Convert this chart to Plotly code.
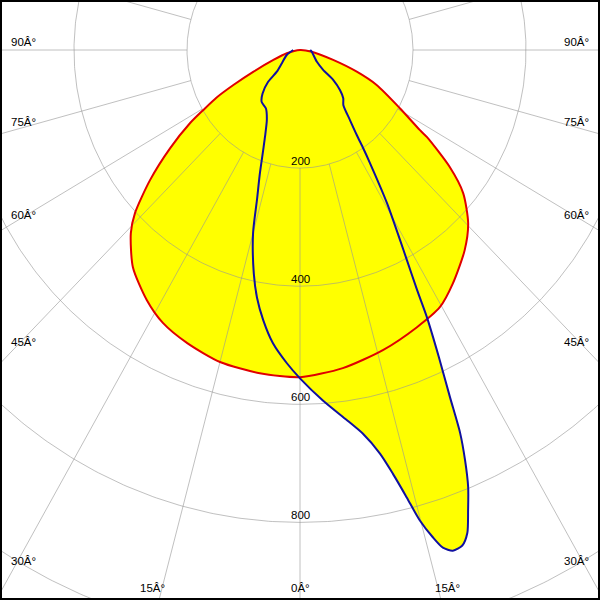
import numpy as np
import plotly.graph_objects as go

# Light distribution data: signed gamma angle (deg, negative = left half), intensity
red_angles = [-90, -76.6, -70.3, -66.0, -63.3, -61.4, -59.3, -57.5, -54.1, -50.3, -46.6,
              -44.0, -38.8, -32.6, -27.7, -21.9, -15.0, -7.4, 0, 8.0, 16.1, 23.8, 29.6,
              34.4, 40.7, 45.4, 50.0, 53.2, 56.7, 57.4, 60.8, 66.4, 69.9, 74, 82, 90]
red_values = [0, 24, 50, 90, 132, 168, 199, 231, 284, 345, 402,
              431, 472, 503, 522, 535, 547, 552, 554, 544, 529, 513, 501,
              479, 447, 418, 377, 331, 269, 252, 203, 148, 107, 61, 21, 0]

blue_angles = [-90, -70.1, -55.2, -48.2, -46.3, -42.0, -37.7, -31.3, -26.4, -22.9, -21.0,
               -18.8, -16.7, -15.0, -12.2, -10.3, -8.1, -5.5, -2.5, 0, 3.9, 7.6, 9.7,
               11.7, 12.9, 14.0, 14.9, 15.9, 16.7, 17.7, 18.9, 19.9, 20.9, 21.9, 22.8,
               23.6, 24.3, 25.3, 26.4, 27.0, 28.0, 28.8, 30.7, 32.9, 33.9, 34.9, 36.7,
               39.4, 43.1, 46.2, 49.2, 50.6, 56.2, 82, 90]
blue_values = [12, 25, 39, 55, 78, 99, 111, 116, 132, 159, 182,
               220, 265, 321, 387, 426, 462, 499, 531, 556, 595, 633, 659,
               698, 736, 781, 824, 858, 880, 890, 887, 870, 834, 798, 754,
               708, 645, 575, 505, 457, 403, 368, 302, 228, 201, 176, 148,
               121, 112, 98, 78, 53, 36, 21, 18]

ring_values = [200, 400, 600, 800, 1000]
ring_labels = ["200", "400", "600", "800"]
spoke_angles = list(range(0, 360, 15))
side_labels = ["90Â°", "75Â°", "60Â°", "45Â°", "30Â°"]
bottom_labels = ["15Â°", "0Â°", "15Â°"]

# layout positions (pixels) of the angle labels
side_label_y = [42, 122, 215, 342, 561]
bottom_label_x = [152, 300, 447]


def to_xy(ang, val):
    a = np.radians(np.asarray(ang, float))
    v = np.asarray(val, float)
    return v * np.sin(a), -v * np.cos(a)


fig = go.Figure()

YELLOW = "#ffff00"
for angs, vals in [(red_angles, red_values), (blue_angles, blue_values)]:
    x, y = to_xy(angs, vals)
    fig.add_trace(go.Scatter(x=x, y=y, mode="lines", fill="toself", fillcolor=YELLOW,
                             line=dict(width=0, color="rgba(0,0,0,0)", shape="spline", smoothing=0.7),
                             hoverinfo="skip"))

# grid rings
gx, gy = [], []
t = np.linspace(0, 360, 721)
for r in ring_values:
    x, y = to_xy(t, np.full_like(t, r))
    gx += list(x) + [None]
    gy += list(y) + [None]
# spokes
for a in spoke_angles:
    x, y = to_xy([a, a], [200, 1400])
    gx += list(x) + [None]
    gy += list(y) + [None]
fig.add_trace(go.Scatter(x=gx, y=gy, mode="lines",
                         line=dict(color="rgba(150,150,150,0.6)", width=1), hoverinfo="skip"))

rx, ry = to_xy(red_angles, red_values)
fig.add_trace(go.Scatter(x=rx, y=ry, mode="lines",
                         line=dict(color="#e00000", width=2, shape="spline", smoothing=0.7)))
bx, by = to_xy(blue_angles, blue_values)
fig.add_trace(go.Scatter(x=bx, y=by, mode="lines",
                         line=dict(color="#1010a0", width=2, shape="spline", smoothing=0.7)))

font = dict(family="Liberation Sans, Arial, sans-serif", size=11.5, color="black")
ann = []
for r, lab in zip(ring_values, ring_labels):
    ann.append(dict(x=0, y=-r, xref="x", yref="y", text=lab, showarrow=False,
                    xanchor="center", yanchor="bottom", font=font, borderpad=0))
for lab, py in zip(side_labels, side_label_y):
    ann.append(dict(x=10 / 600, y=1 - py / 600, xref="paper", yref="paper", text=lab,
                    showarrow=False, xanchor="left", yanchor="middle", font=font, borderpad=0))
    ann.append(dict(x=590 / 600, y=1 - py / 600, xref="paper", yref="paper", text=lab,
                    showarrow=False, xanchor="right", yanchor="middle", font=font, borderpad=0))
for lab, px in zip(bottom_labels, bottom_label_x):
    ann.append(dict(x=px / 600, y=1 - 588 / 600, xref="paper", yref="paper", text=lab,
                    showarrow=False, xanchor="center", yanchor="middle", font=font, borderpad=0))

SX, SY = 0.565, 0.5905  # px per unit horizontally / vertically
fig.update_layout(
    width=600, height=600, margin=dict(l=0, r=0, t=0, b=0),
    paper_bgcolor="white", plot_bgcolor="white", showlegend=False,
    xaxis=dict(range=[-300 / SX, 300 / SX], visible=False, fixedrange=True),
    yaxis=dict(range=[-550 / SY, 50 / SY], visible=False, fixedrange=True),
    annotations=ann,
    shapes=[dict(type="rect", xref="paper", yref="paper", x0=0, y0=0, x1=1, y1=1,
                 line=dict(color="black", width=4), layer="above")],
)

fig.write_html("out.html", config={"displayModeBar": False},
               post_script="document.body.style.margin='0';document.body.style.overflow='hidden';")
